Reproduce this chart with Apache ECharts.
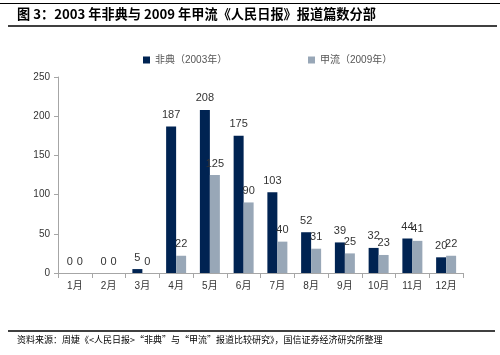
<!DOCTYPE html>
<html>
<head>
<meta charset="utf-8">
<script src="https://cdn.jsdelivr.net/npm/echarts@6/dist/echarts.min.js"></script>
<style>html,body{margin:0;padding:0;background:#fff;}#c{width:500px;height:355px;}</style>
</head>
<body>
<div id="c"></div>
<script>
var categories = ['1月','2月','3月','4月','5月','6月','7月','8月','9月','10月','11月','12月'];
var sarsValues = [0,0,5,187,208,175,103,52,39,32,44,20];
var fluValues = [0,0,0,22,125,90,40,31,25,23,41,22];
var seriesNames = ['非典（2003年）','甲流（2009年）'];
var yTicks = {min:0, max:250, interval:50};
var titleText = '图 3：2003 年非典与 2009 年甲流《人民日报》报道篇数分部';
var sourceText = '资料来源：周婕《<人民日报>“非典”与“甲流”报道比较研究》，国信证券经济研究所整理';

var chart = echarts.init(document.getElementById('c'));
var numFont = 'Liberation Sans, Arial, Noto Sans CJK SC, sans-serif';
chart.setOption({
  backgroundColor:'#fff',
  animation:false,
  graphic:[
    {type:'line', shape:{x1:0,y1:3.5,x2:500,y2:3.5}, style:{stroke:'#000',lineWidth:1}},
    {type:'line', shape:{x1:8,y1:26,x2:497,y2:26}, style:{stroke:'#000',lineWidth:1.5}},
    {type:'text', left:17, top:7, style:{text:titleText, font:'bold 13.2px "Noto Sans CJK SC", sans-serif', fill:'#000'}},
    {type:'line', shape:{x1:8,y1:331,x2:495,y2:331}, style:{stroke:'#000',lineWidth:1.5}},
    {type:'text', left:17, top:335, style:{text:sourceText, font:'9px "Noto Sans CJK SC", sans-serif', fill:'#000'}}
  ],
  legend:[
    {data:[seriesNames[0]], left:138, top:50, itemWidth:7, itemHeight:7, icon:'rect', itemGap:3,
     textStyle:{fontSize:10, color:'#555', fontFamily:numFont}},
    {data:[seriesNames[1]], left:303, top:50, itemWidth:7, itemHeight:7, icon:'rect', itemGap:3,
     textStyle:{fontSize:10, color:'#555', fontFamily:numFont}}
  ],
  grid:{left:58, right:37, top:77, bottom:82, containLabel:false},
  xAxis:{
    type:'category', data:categories,
    axisLine:{lineStyle:{color:'#a6a6a6'}},
    axisTick:{show:true, length:5, lineStyle:{color:'#a6a6a6'}},
    axisLabel:{fontSize:10, color:'#333', margin:8, fontFamily:numFont}
  },
  yAxis:{
    type:'value', min:yTicks.min, max:yTicks.max, interval:yTicks.interval,
    axisLine:{show:true, lineStyle:{color:'#a6a6a6'}},
    axisTick:{show:true, length:4, lineStyle:{color:'#a6a6a6'}},
    splitLine:{show:false},
    axisLabel:{fontSize:10, color:'#333', margin:8, fontFamily:numFont}
  },
  series:[
    {name:seriesNames[0], type:'bar', data:sarsValues, barWidth:10, barGap:'0%',
     itemStyle:{color:'#002352'},
     label:{show:true, position:'top', distance:6, fontSize:11, color:'#333', fontFamily:numFont}},
    {name:seriesNames[1], type:'bar', data:fluValues, barWidth:10, barGap:'0%',
     itemStyle:{color:'#98a7b7'},
     label:{show:true, position:'top', distance:6, fontSize:11, color:'#333', fontFamily:numFont}}
  ]
});
</script>
</body>
</html>
